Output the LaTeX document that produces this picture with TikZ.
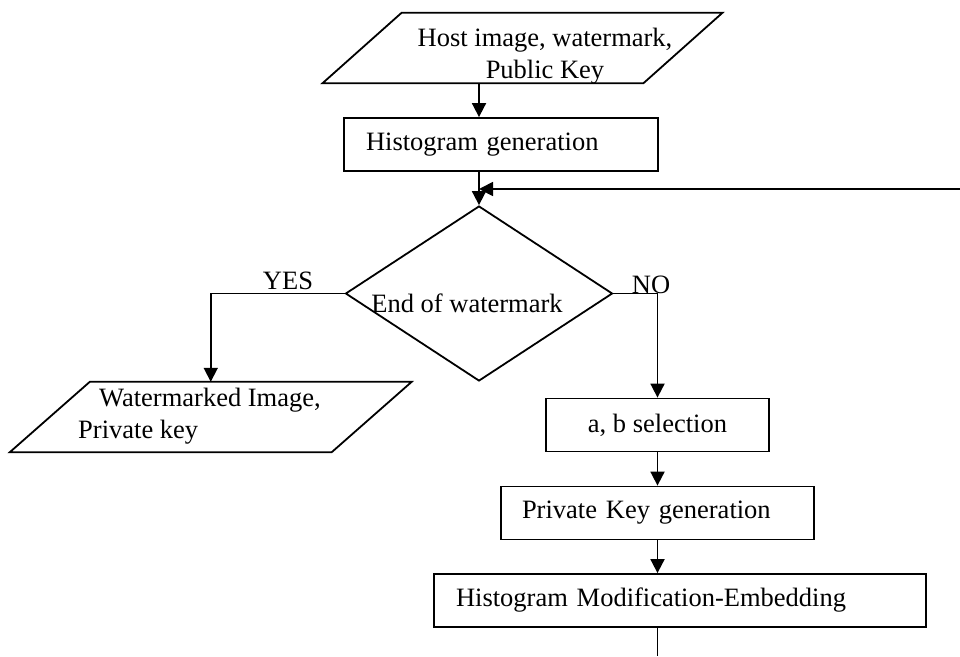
\documentclass[tikz,border=0pt]{standalone}
\usepackage{fontspec}
\setmainfont{Liberation Serif}
\usetikzlibrary{shapes.geometric,arrows.meta,calc}
\begin{document}
\begin{tikzpicture}[x=1pt,y=-1pt,
  every node/.style={font=\fontsize{26.5}{32}\selectfont},
  ln/.style={line width=1.8pt},
  arr/.style={ln,-{Triangle[length=14pt,width=14pt]}},
  box/.style={draw,line width=1.8pt,minimum height=53pt,inner ysep=0pt},
  ghost/.style={inner sep=0pt},
  dec/.style={draw,diamond,line width=1.8pt,inner sep=0pt,minimum width=267pt,minimum height=175pt},
  lbl/.style={inner sep=0pt,anchor=base}
]
\useasboundingbox (0,0) rectangle (960,656);
% input parallelogram
\node[ghost,minimum width=320.5pt,minimum height=70pt] (in) at (522.5,48) {};
\draw[ln,line join=miter] ($(in.north west)+(39.5,0)$) -- ($(in.north east)+(39.5,0)$)
   -- ($(in.south east)+(-39.5,0)$) -- ($(in.south west)+(-39.5,0)$) -- cycle;
\node[align=center,inner sep=0pt] (intext) at (545,56) {Host image, watermark,\\Public Key};
% histogram generation
\node[box,text width=270pt,inner xsep=22pt,align=left] (hg) at (501,144.5) {Histogram generation};
% decision
\node[dec] (dia) at (479,293.5) {};
\node[inner sep=0pt] (diatext) at (467,303) {End of watermark};
% output parallelogram
\node[ghost,minimum width=321.5pt,minimum height=70pt] (wm) at (210.75,417) {};
\draw[ln,line join=miter] ($(wm.north west)+(40,0)$) -- ($(wm.north east)+(40,0)$)
   -- ($(wm.south east)+(-40,0)$) -- ($(wm.south west)+(-40,0)$) -- cycle;
\node[align=left,inner sep=0pt,anchor=west] (wmtext) at (78,416) {\hspace{21pt}Watermarked Image,\\Private key};
% process boxes
\node[box,minimum width=223pt,align=center] (ab) at (657.5,425) {a, b selection};
\node[box,text width=271pt,inner xsep=21pt,align=left] (pk) at (657.5,513) {Private Key generation};
\node[box,text width=448pt,inner xsep=22pt,align=left] (hme) at (680,600.5) {Histogram Modification-Embedding};
% free ends
\coordinate (fb) at (960,189);
\coordinate (out) at (657.5,656);
% connectors
\draw[arr] (dia.north |- in.south) -- (dia.north |- hg.north);
\draw[arr] (dia.north |- hg.south) -- (dia.north);
\draw[arr] (fb) -- (dia.north |- fb);
\draw[arr] (dia.west) -| (wm.north);
\draw[arr] (dia.east) -| (ab.north);
\draw[arr] (ab.south) -- (pk.north);
\draw[arr] (pk.south) -- (pk.south |- hme.north);
\draw[ln] (hme.south -| out) -- (out);
% labels
\node[lbl] (yes) at (288,289) {YES};
\node[lbl] (no) at (651,293) {NO};
\end{tikzpicture}
\end{document}
